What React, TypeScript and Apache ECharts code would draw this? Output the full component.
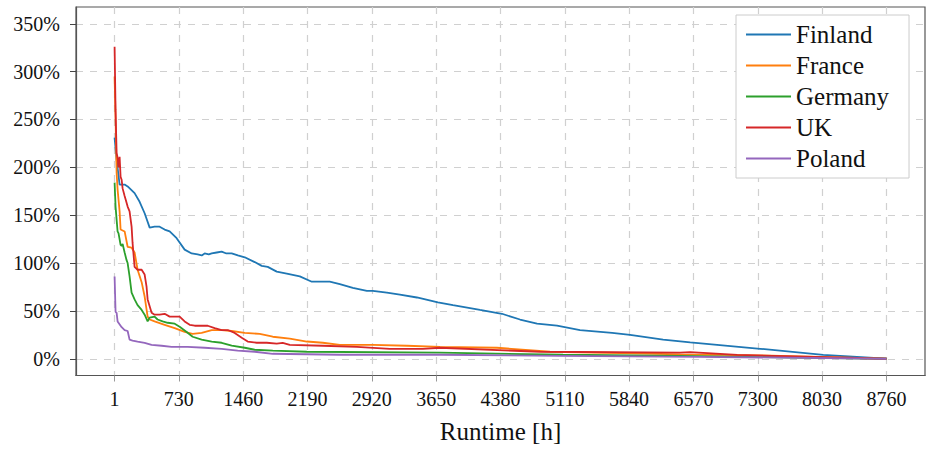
import React, { useEffect, useRef } from "react";
import * as echarts from "echarts";

const FONT = "'Liberation Serif', 'DejaVu Serif', serif";

const seriesNames = ["Finland", "France", "Germany", "UK", "Poland"];
const seriesColors = ["#1f77b4", "#ff7f0e", "#2ca02c", "#d62728", "#9467bd"];

const xTicks = [1, 730, 1460, 2190, 2920, 3650, 4380, 5110, 5840, 6570, 7300, 8030, 8760];
const yTicks = [0, 50, 100, 150, 200, 250, 300, 350];

const finlandHours = [1, 24, 58, 115, 149, 228, 285, 342, 399, 455, 512, 569, 626, 705, 796, 876, 944, 990, 1023, 1070, 1103, 1160, 1216, 1270, 1330, 1400, 1478, 1591, 1671, 1739, 1841, 1955, 2103, 2239, 2443, 2557, 2705, 2864, 2932, 3091, 3239, 3432, 3670, 3841, 4148, 4397, 4602, 4795, 5022, 5283, 5647, 5851, 6226, 6533, 7328, 8043, 8760];
const finlandValues = [231, 208, 182, 182, 180, 173, 164, 152, 137, 138, 138, 135, 133, 126, 114, 110, 109, 108, 110, 109, 110, 111, 112, 110, 110, 108, 106, 101, 97, 96, 91, 89, 86, 80.5, 80.5, 78, 74, 71, 71, 69, 67, 64, 59, 56, 51, 47, 41, 36.6, 34.5, 30, 27, 25, 20, 17, 10.4, 4, 0];

const franceHours = [1, 12, 24, 35, 58, 69, 115, 149, 194, 228, 262, 308, 342, 376, 399, 455, 569, 683, 796, 887, 989, 1103, 1216, 1330, 1478, 1648, 1796, 1989, 2182, 2364, 2557, 2932, 3318, 3693, 4341, 4943, 5738, 6419, 7328, 8760];
const franceValues = [295, 250, 194, 177, 154, 135, 133, 117, 116, 111, 93, 80, 65, 44, 41, 39, 35.5, 32, 28, 26, 27, 30, 30, 29, 27, 26, 23, 21, 18, 16.7, 14.6, 14.6, 13.6, 12.5, 11.5, 7.3, 6, 4.5, 3.5, 0];

const germanyHours = [1, 12, 35, 46, 69, 81, 92, 115, 137, 149, 171, 194, 228, 262, 308, 342, 376, 399, 455, 489, 546, 603, 683, 739, 819, 887, 989, 1103, 1216, 1330, 1478, 1591, 1796, 2182, 3693, 5090, 6419, 8760];
const germanyValues = [184, 159, 133, 131, 119, 118, 120, 111, 103, 100, 86, 69, 62, 56, 51, 46, 39, 43, 44, 41, 39, 37.6, 36.6, 33.4, 28, 23, 20, 18, 16.7, 13.6, 11.5, 9.4, 8.4, 7.3, 6.3, 4.2, 3, 0];

const ukHours = [1, 12, 24, 35, 46, 58, 69, 81, 92, 115, 137, 149, 171, 194, 205, 228, 262, 308, 342, 364, 376, 421, 455, 512, 569, 626, 683, 739, 796, 853, 910, 989, 1058, 1137, 1216, 1285, 1364, 1444, 1512, 1614, 1728, 1841, 1909, 1989, 2364, 2750, 3125, 3500, 3693, 4829, 6419, 6533, 7067, 8760];
const ukValues = [326, 260, 215, 210, 200, 211, 190, 187, 178, 170, 163, 159, 154, 138, 121, 96, 93, 93, 88, 75, 62, 48, 46, 46, 47, 44, 44, 44, 39, 35.5, 34.5, 34.5, 34.5, 32, 30, 30, 27, 22, 18, 16.7, 16.7, 15.7, 16.7, 14.6, 13.6, 12.5, 10.4, 10.4, 11.5, 7.3, 6.3, 7, 4, 0];

const polandHours = [1, 12, 24, 35, 81, 115, 149, 171, 205, 262, 342, 421, 535, 648, 830, 1023, 1216, 1398, 1591, 1796, 2557, 3693, 5057, 6647, 8760];
const polandValues = [86, 49, 48, 39, 33, 30, 29, 20, 19, 18, 16.7, 14.6, 13.6, 12.5, 12.5, 11.5, 10.4, 8.4, 7.3, 5.2, 4.2, 4.2, 3, 2, 0];

const seriesHours = [finlandHours, franceHours, germanyHours, ukHours, polandHours];
const seriesValues = [finlandValues, franceValues, germanyValues, ukValues, polandValues];

export default function App() {
  const ref = useRef<HTMLDivElement>(null);
  useEffect(() => {
    if (!ref.current) return;
    const chart = echarts.init(ref.current, undefined, { renderer: "svg" });
    const textColor = "#111";
    const option: any = {
      animation: false,
      textStyle: { fontFamily: FONT },
      grid: {
        left: 76,
        right: 5,
        top: 7,
        bottom: 74.5,
        show: true,
        borderColor: "#555",
        borderWidth: 1.2,
        backgroundColor: "transparent",
        containLabel: false,
        outerBoundsMode: "none",
      },
      legend: {
        orient: "vertical",
        left: 736,
        top: 15,
        padding: [7, 20, 7, 10],
        itemGap: 6,
        itemWidth: 45,
        itemHeight: 2,
        icon: "rect",
        backgroundColor: "#fff",
        borderColor: "#cccccc",
        borderWidth: 1,
        borderRadius: 0,
        textStyle: { fontSize: 25, color: textColor, lineHeight: 24, fontFamily: FONT },
        data: seriesNames,
      },
      xAxis: {
        type: "value",
        min: -436.95,
        max: 9197.95,
        name: "Runtime [h]",
        nameLocation: "middle",
        nameGap: 43,
        nameTextStyle: { fontSize: 25, color: textColor, fontFamily: FONT },
        axisLine: { show: true, onZero: false, lineStyle: { color: "#555", width: 1.2 } },
        axisTick: { show: true, customValues: xTicks, length: 6, lineStyle: { color: "#999", width: 1 } },
        axisLabel: {
          customValues: xTicks,
          fontSize: 20,
          color: textColor,
          margin: 13,
          fontFamily: FONT,
          formatter: (v: number) => String(v),
        },
        splitLine: { show: true, lineStyle: { color: "#d0d0d0", type: [7, 7], width: 1.2 } },
      },
      yAxis: {
        type: "value",
        min: -17.5,
        max: 367.5,
        axisLine: { show: true, onZero: false, lineStyle: { color: "#555", width: 1.2 } },
        axisTick: { show: true, customValues: yTicks, length: 6, lineStyle: { color: "#444", width: 1 } },
        axisLabel: {
          customValues: yTicks,
          fontSize: 20,
          color: textColor,
          margin: 16,
          fontFamily: FONT,
          formatter: (v: number) => `${v}%`,
        },
        splitLine: { show: true, lineStyle: { color: "#d0d0d0", type: [7, 7], width: 1.2 } },
      },
      series: seriesNames.map((name, i) => ({
        name,
        type: "line",
        symbol: "none",
        showSymbol: false,
        color: seriesColors[i],
        lineStyle: { color: seriesColors[i], width: 1.8 },
        emphasis: { disabled: true },
        data: seriesHours[i].map((h, j) => [h, seriesValues[i][j]]),
      })),
    };
    chart.setOption(option);
    return () => chart.dispose();
  }, []);
  return (
    <div
      ref={ref}
      style={{ position: "absolute", left: 0, top: 0, width: 930, height: 450 }}
    />
  );
}
